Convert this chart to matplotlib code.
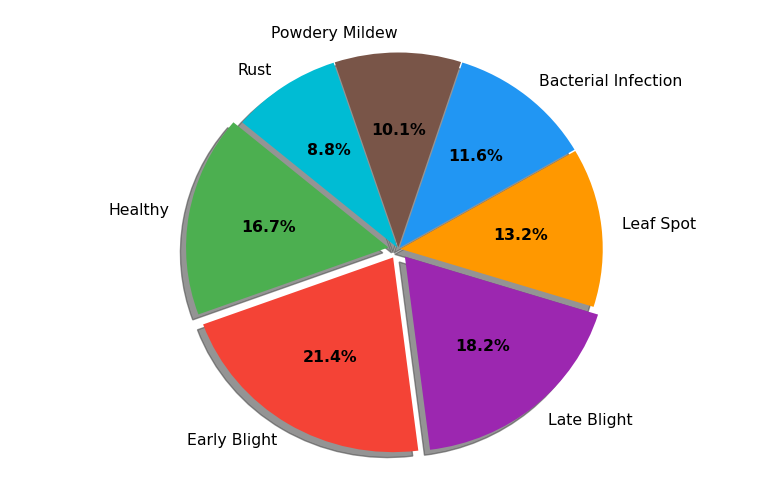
import matplotlib
matplotlib.use("Agg")
import matplotlib.pyplot as plt

# Plant disease class distribution
labels = ['Healthy', 'Early Blight', 'Late Blight', 'Leaf Spot',
          'Bacterial Infection', 'Powdery Mildew', 'Rust']
sizes = [16.7, 21.4, 18.2, 13.2, 11.6, 10.1, 8.8]
colors = ['#4CAF50', '#F44336', '#9C27B0', '#FF9800',
          '#2196F3', '#795548', '#00BCD4']
explode = [0.05, 0.05, 0.05, 0.01, 0.01, 0.01, 0.01]

fig = plt.figure(figsize=(7.84, 5.01), dpi=100)
ax = fig.add_axes([0.05, 0.05, 0.9, 0.9])
wedges, texts, autotexts = ax.pie(sizes, labels=labels, colors=colors,
                                  explode=explode, autopct='%1.1f%%',
                                  startangle=140,
                                  shadow={'facecolor': '0.3', 'edgecolor': '0.3', 'alpha': 0.6},
                                  textprops={'fontsize': 11.3})
for t in autotexts:
    t.set_fontweight('bold')

# the reference picture is slightly wider than tall
ax.set_aspect('auto')
ax.set_xlim(-1.775, 1.712)
ax.set_ylim(-1.165, 1.151)
fig.savefig('out.png', dpi=100)
